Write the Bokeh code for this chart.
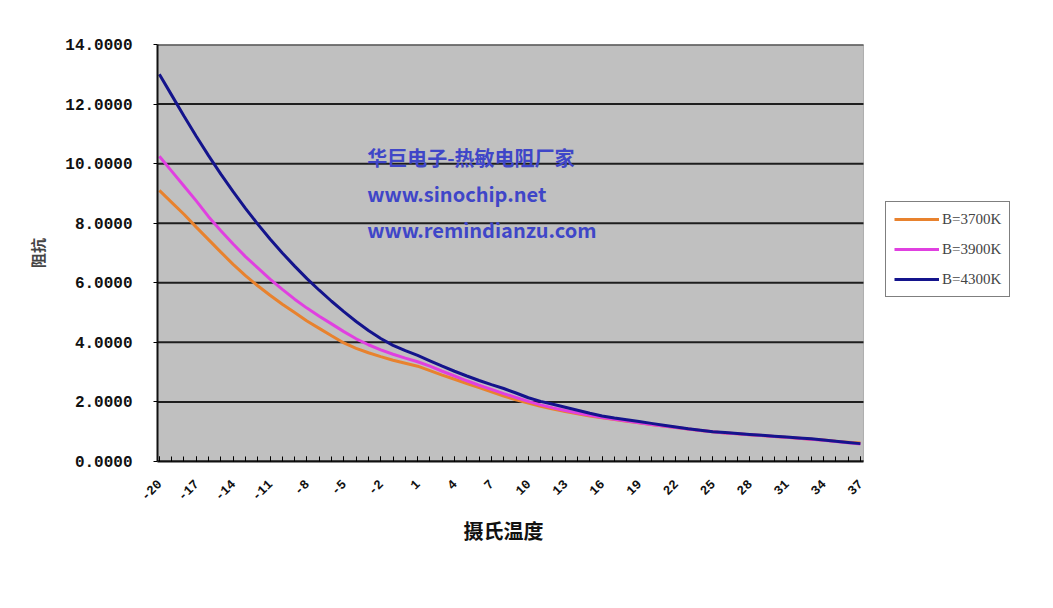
import math
from bokeh.plotting import figure
from bokeh.models import (Range1d, FixedTicker, NumeralTickFormatter, Legend,
                          LegendItem, Label, BoxAnnotation, Title)
from bokeh.embed import file_html
from bokeh.resources import INLINE

# ---- data ----
temps = [-20, -19, -18, -17, -16, -15, -14, -13, -12, -11,
         -10, -9, -8, -7, -6, -5, -4, -3, -2, -1,
         0, 1, 2, 3, 4, 5, 6, 7, 8, 9,
         10, 11, 12, 13, 14, 15, 16, 17, 18, 19,
         20, 21, 22, 23, 24, 25, 26, 27, 28, 29,
         30, 31, 32, 33, 34, 35, 36, 37]

r_3700 = [9.1, 8.7, 8.3, 7.87, 7.45, 7.03, 6.62, 6.24, 5.9, 5.58,
          5.28, 5.0, 4.72, 4.47, 4.22, 3.98, 3.8, 3.65, 3.52, 3.4,
          3.3, 3.2, 3.05, 2.9, 2.76, 2.62, 2.48, 2.34, 2.2, 2.07,
          1.96, 1.85, 1.76, 1.68, 1.6, 1.53, 1.47, 1.41, 1.35, 1.3,
          1.24, 1.19, 1.14, 1.09, 1.04, 1.0, 0.96, 0.93, 0.9, 0.87,
          0.84, 0.81, 0.78, 0.75, 0.72, 0.68, 0.65, 0.62]

r_3900 = [10.25, 9.75, 9.25, 8.75, 8.22, 7.75, 7.3, 6.88, 6.5, 6.12,
          5.78, 5.45, 5.15, 4.88, 4.62, 4.36, 4.12, 3.92, 3.75, 3.6,
          3.47, 3.35, 3.2, 3.03, 2.87, 2.71, 2.56, 2.42, 2.28, 2.15,
          2.02, 1.9, 1.8, 1.71, 1.63, 1.55, 1.48, 1.42, 1.36, 1.3,
          1.24, 1.19, 1.14, 1.09, 1.04, 1.0, 0.96, 0.93, 0.9, 0.87,
          0.84, 0.81, 0.78, 0.75, 0.71, 0.67, 0.63, 0.59]

r_4300 = [13.0, 12.3, 11.6, 10.92, 10.27, 9.65, 9.06, 8.5, 7.97, 7.47,
          7.0, 6.56, 6.14, 5.75, 5.38, 5.03, 4.7, 4.4, 4.13, 3.9,
          3.72, 3.56, 3.38, 3.2, 3.03, 2.87, 2.72, 2.58, 2.45, 2.3,
          2.14, 2.02, 1.92, 1.82, 1.72, 1.62, 1.53, 1.46, 1.4, 1.34,
          1.28, 1.22, 1.16, 1.1, 1.05, 1.0, 0.97, 0.94, 0.91, 0.88,
          0.85, 0.82, 0.79, 0.76, 0.72, 0.68, 0.64, 0.6]

x_tick_values = [-20, -17, -14, -11, -8, -5, -2, 1, 4, 7,
                 10, 13, 16, 19, 22, 25, 28, 31, 34, 37]
x_tick_labels = ["-20", "-17", "-14", "-11", "-8", "-5", "-2", "1", "4", "7",
                 "10", "13", "16", "19", "22", "25", "28", "31", "34", "37"]
y_ticks = [0, 2, 4, 6, 8, 10, 12, 14]

series_names = ["B=3700K", "B=3900K", "B=4300K"]
series_colors = ["#E8822E", "#E040E0", "#14148C"]

watermark_lines = ["华巨电子-热敏电阻厂家", "www.sinochip.net", "www.remindianzu.com"]
x_title = "摄氏温度"
y_title = "阻抗"

# plot-area extent (data units); the frame is widened to the right to host the legend
X_LO, X_HI = -20.15, 37.25
Y_LO, Y_HI = 0, 14

# ---- figure ----
p = figure(frame_width=866, frame_height=417, output_backend="svg", toolbar_location=None,
           x_range=Range1d(X_LO, 50.26), y_range=Range1d(Y_LO, Y_HI),
           min_border_left=157, min_border_right=14,
           min_border_top=44, min_border_bottom=131)

p.background_fill_color = "white"
p.border_fill_color = "white"
p.outline_line_color = None
p.xgrid.visible = False
p.ygrid.visible = False

plot_area = BoxAnnotation(left=X_LO, right=X_HI, bottom=Y_LO, top=Y_HI,
                          fill_color="#C0C0C0", fill_alpha=1.0,
                          line_color="#404040", line_width=1, level="underlay")
p.add_layout(plot_area)

# horizontal grid lines limited to the plot area
p.segment(x0=[X_LO] * len(y_ticks), x1=[X_HI] * len(y_ticks),
          y0=y_ticks, y1=y_ticks, line_color="#1E1E1E", line_width=2)

renderers = []
for vals, color in zip([r_3700, r_3900, r_4300], series_colors):
    r = p.line(temps, vals, line_color=color, line_width=3)
    renderers.append(r)

# y axis
yax = p.yaxis[0]
yax.ticker = FixedTicker(ticks=y_ticks)
yax.formatter = NumeralTickFormatter(format="0.0000")
yax.major_label_text_font = "Liberation Mono"
yax.major_label_text_font_style = "bold"
yax.major_label_text_font_size = "16px"
yax.major_label_text_color = "#111111"
yax.major_tick_in = 0
yax.major_tick_out = 4
yax.minor_tick_line_color = None
yax.major_label_standoff = 21
yax.axis_line_color = "#111111"
yax.axis_line_width = 2
yax.axis_label = y_title
yax.axis_label_text_font = "Noto Sans CJK SC"
yax.axis_label_text_font_style = "bold"
yax.axis_label_text_font_size = "15px"
yax.axis_label_standoff = 14

# x axis
xax = p.xaxis[0]
xax.bounds = (X_LO, X_HI)
xax.ticker = FixedTicker(ticks=x_tick_values, minor_ticks=temps)
xax.major_label_overrides = {v: s for v, s in zip(x_tick_values, x_tick_labels)}
xax.major_label_orientation = math.pi / 4
xax.major_label_text_font = "Liberation Mono"
xax.major_label_text_font_style = "bold"
xax.major_label_text_font_size = "13px"
xax.major_label_text_color = "#111111"
xax.major_tick_in = 5
xax.major_tick_out = 0
xax.minor_tick_in = 5
xax.minor_tick_out = 0
xax.major_label_standoff = 20
xax.axis_line_color = "#111111"
xax.axis_line_width = 2

# x-axis title, centred under the plot area (not the widened frame)
xt = Title(text=x_title, align="left", offset=306, standoff=12,
           text_font="Noto Sans CJK SC", text_font_style="bold",
           text_font_size="20px", text_color="#111111")
p.add_layout(xt, "below")

# watermark text
for i, txt in enumerate(watermark_lines):
    lab = Label(x=-3.1, y=10.2 - 1.2 * i, text=txt,
                text_font="Noto Sans CJK SC", text_font_style="bold",
                text_font_size="20px", text_color="#3F46C8",
                text_baseline="middle", text_align="left")
    p.add_layout(lab)

# legend (inside the widened frame, right of the plot area)
items = [LegendItem(label=n, renderers=[r]) for n, r in zip(series_names, renderers)]
legend = Legend(items=items, location=(728, 164),
                label_text_font="Liberation Serif", label_text_font_size="15px",
                glyph_width=45, glyph_height=18, spacing=12, padding=8,
                margin=0, border_line_color="black", border_line_width=1,
                background_fill_color="white", background_fill_alpha=1.0,
                label_standoff=3)
p.add_layout(legend)

open("out.html", "w").write(file_html(p, INLINE))
